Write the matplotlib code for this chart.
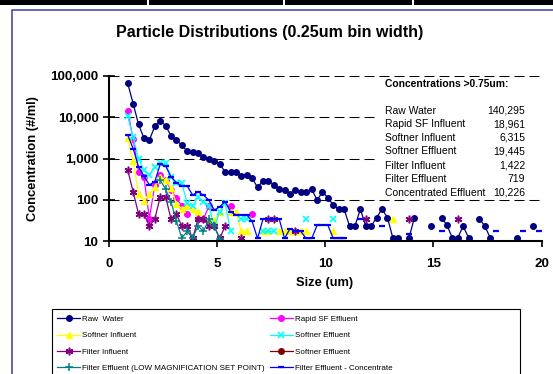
import numpy as np
import matplotlib
matplotlib.use("Agg")
import matplotlib.pyplot as plt
from matplotlib.patches import Rectangle
from matplotlib.lines import Line2D
from matplotlib.ticker import FuncFormatter, NullLocator

plt.rcParams["font.family"] = ["Liberation Sans", "DejaVu Sans"]

# ---- data: particle counts per 0.25 um bin (bin centres) ----
size_um = np.arange(0.875, 20.0, 0.25)

raw_water = [
    66000, 21500, 6700, 3100, 2800, 6000, 8100, 6300, 3500, 2800,
    2100, 1500, 1450, 1370, 1080, 970, 880, 730, 480, 480,
    460, 380, 400, 330, 200, 290, 290, 230, 182, 170,
    135, 170, 155, 155, 182, 98, 155, 112, 74, 59,
    59, 23, 23, 59, 23, 23, 37, 59, 37, 12,
    12, None, 12, 37, None, None, 23, None, 37, 24,
    12, 12, 23, 12, None, 35, 23, 12, None, None,
    None, None, 12, None, None, 23, None,
]

rapid_sf_effluent = [
    14000, 2900, 480, 350, 35, 230, 390, 300, 170, 110,
    70, 45, None, 34, 34, 70, None, None, None, 70,
    None, None, None, 45,
]

softner_influent = [
    3100, 850, 140, 95, 135, 200, 360, 300, 195, 80,
    60, 70, 60, 51, None, 32, 32, 51, None, 51,
    51, 17, 17, None, None, 17, 17, None, 17, 17,
    17, 17, 17, 17, None, None, None, None, 17, None,
    None, None, None, None, None, None, None, None, None, 35,
]

softner_effluent = [
    10600, 3260, 980, 520, 400, 610, 760, 760, 360, 260,
    250, 82, 70, 118, 90, 70, 23, 50, 85, 17,
    None, 34, 34, None, None, 17, 17, 17, None, None,
    None, None, None, 35, None, None, None, None, 35,
]

filter_influent = [
    520, 156, 45, 45, 23, 34, 118, 118, 34, 45,
    23, 23, 11.5, 34, 34, 23, 23, 11.5, 23, None,
    None, 11.5, None, None, None, None, 34, 34, None, None,
    None, 17, None, None, None, None, None, None, None, None,
    None, None, None, None, 34, None, None, None, None, None,
    None, None, 35, None, None, None, None, None, None, None,
    None, 35,
]

softner_effluent_2 = []

filter_effluent_low = [
    None, None, None, None, None, None, 300, 180, 90, 30,
    12, 17, 12, 23, 17, 34, 23, 11,
]

filter_effluent_conc = [
    3700, 1740, 630, 370, 230, 275, 720, 660, 360, 260,
    215, 215, 130, 155, 130, 98, 56, 68, 90, 51,
    43, 43, 43, 30, 11.5, 34, 34, 34, 34, 11.5,
    20, 17, 17, 11.5, 11.5, 24, 24, 24, 11.5, 11.5,
    11.5, None, None, 34, None, None, None, 23, None, None,
    None, None, 15, None, None, None, None, None, 17, None,
    None, None, None, None, None, None, None, None, 17, None,
    None, None, None, 17, None, None, 17,
]

summary_labels = ["Raw Water", "Rapid SF Influent", "Softner Influent",
                  "Softner Effluent", "Filter Influent", "Filter Effluent",
                  "Concentrated Effluent"]
summary_values = ["140,295", "18,961", "6,315", "19,445", "1,422", "719", "10,226"]


def padded(vals):
    arr = np.full(len(size_um), np.nan)
    v = np.array(vals, dtype=float) if len(vals) else np.array([])
    arr[:len(v)] = v
    return arr


# ---- figure geometry (pixel helpers) ----
W, H = 553, 374


def fx(px):
    return px / W


def fy(py):
    return 1 - py / H


fig = plt.figure(figsize=(W / 100, H / 100), dpi=100)
fig.patch.set_facecolor("white")

ax = fig.add_axes([fx(108.8), fy(241), fx(541.6) - fx(108.8), fy(76) - fy(241)])

series = [
    ("Raw  Water", raw_water, "#000080", "o", 4.0, 1.0),
    ("Rapid SF Effluent", rapid_sf_effluent, "#FF00FF", "o", 4.0, 1.0),
    ("Softner Influent", softner_influent, "#FFFF00", "^", 5.0, 1.0),
    ("Softner Effluent", softner_effluent, "#00FFFF", "x", 4.5, 1.2),
    ("Filter Influent", filter_influent, "#800080", (6, 2, 0), 5.5, 1.1),
    ("Softner Effluent", softner_effluent_2, "#800000", "o", 4.0, 1.0),
    ("Filter Effluent (LOW MAGNIFICATION SET POINT)", filter_effluent_low,
     "#008080", "+", 5.5, 1.1),
    ("Filter Effluent - Concentrate", filter_effluent_conc, "#0000FF", "_", 4.0, 1.6),
]

handles = []
for label, vals, color, marker, ms, mew in series:
    (h,) = ax.plot(size_um, padded(vals), color=color, lw=0.9, marker=marker,
                   ms=ms, mew=mew, mec=color, mfc=color, label=label)
    handles.append(h)

ax.set_yscale("log")
ax.set_xlim(0, 20)
ax.set_ylim(10, 100000)
ax.set_xticks([0, 5, 10, 15, 20])
ax.set_yticks([10, 100, 1000, 10000, 100000])
ax.yaxis.set_minor_locator(NullLocator())
ax.yaxis.set_major_formatter(FuncFormatter(lambda v, p: f"{int(round(v)):,}"))

for side in ("top", "right"):
    ax.spines[side].set_visible(False)
for side in ("left", "bottom"):
    ax.spines[side].set_linewidth(1.5)
    ax.spines[side].set_color("black")

ax.tick_params(axis="y", direction="inout", length=9, width=1.2, pad=3,
               labelsize=9.6)
ax.tick_params(axis="x", direction="out", length=4, width=1.2, pad=8,
               labelsize=9.6)
for lab in ax.get_xticklabels() + ax.get_yticklabels():
    lab.set_fontweight("bold")

ax.set_axisbelow(True)
ax.yaxis.grid(True, color="black", lw=0.75, linestyle=(0, (9.6, 4.8)))

# white panel holding the concentration summary
ax.add_patch(Rectangle((fx(378), fy(198)), fx(548) - fx(378), fy(79) - fy(198),
                       transform=fig.transFigure, facecolor="white",
                       edgecolor="none", zorder=1.5, clip_on=False))

fig.text(fx(385), fy(84), "Concentrations >0.75um:", fontsize=7.4,
         fontweight="bold", ha="left", va="center")
row_y = [110.7, 124.3, 137.7, 151, 165.7, 179.3, 192.7]
for yy, lab, val in zip(row_y, summary_labels, summary_values):
    fig.text(fx(385), fy(yy), lab, fontsize=7.5, ha="left", va="center")
    fig.text(fx(525), fy(yy), val, fontsize=7.5, ha="right", va="center")

# titles
fig.text(fx(270), fy(33), "Particle Distributions (0.25um bin width)",
         fontsize=11.5, fontweight="bold", ha="center", va="center")
fig.text(fx(33), fy(158.7), "Concentration (#/ml)", fontsize=9.25,
         fontweight="bold", ha="center", va="center", rotation=90)
fig.text(fx(325), fy(283), "Size (um)", fontsize=9.25, fontweight="bold",
         ha="center", va="center")

# legend (two columns, filled row by row)
order = [0, 2, 4, 6, 1, 3, 5, 7]
fig.legend([handles[i] for i in order], [series[i][0] for i in order],
           ncol=2, loc="upper left", bbox_to_anchor=(fx(51), fy(309)),
           frameon=False, fontsize=5.8, numpoints=1, handlelength=2.85,
           handletextpad=0.25, columnspacing=0.6, labelspacing=1.08,
           borderpad=0.3)
fig.add_artist(Rectangle((fx(52), fy(380)), fx(520) - fx(52), fy(309) - fy(380),
                         transform=fig.transFigure, fill=False,
                         edgecolor="black", lw=0.8))

# chart-area border and sheet band along the top
fig.add_artist(Line2D([fx(12), fx(12), fx(553)], [fy(374), fy(10), fy(10)],
                      transform=fig.transFigure, color="#5a5aaa", lw=1.3))
fig.add_artist(Rectangle((0, fy(5)), 1, fy(0) - fy(5), transform=fig.transFigure,
                         facecolor="black", edgecolor="none"))
for gx in (147, 283, 412):
    fig.add_artist(Rectangle((fx(gx), fy(5)), fx(2), fy(0) - fy(5),
                             transform=fig.transFigure, facecolor="white",
                             edgecolor="none"))

fig.savefig("out.png", dpi=100)
